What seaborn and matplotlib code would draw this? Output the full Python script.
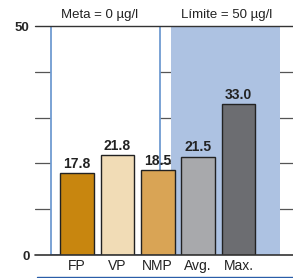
import pandas as pd
import matplotlib
matplotlib.use("Agg")
import matplotlib.pyplot as plt
from matplotlib.lines import Line2D
import seaborn as sns

categories = ["FP", "VP", "NMP", "Avg.", "Max."]
values = [17.8, 21.8, 18.5, 21.5, 33.0]
bar_colors = ["#c8860f", "#f1dcb6", "#d9a455", "#a8a9ac", "#6c6d71"]
meta_label = "Meta = 0 µg/l"
limite_label = "Límite = 50 µg/l"

sns.set_style("white")
plt.rcParams["font.family"] = ["Liberation Sans", "DejaVu Sans"]

df = pd.DataFrame({"cat": categories, "val": values})

fig = plt.figure(figsize=(2.93, 2.78), dpi=100)
ax = fig.add_axes([0.1195, 0.0827, 0.8805, 0.8237])

# gridlines (partly hidden by the panels)
for g in [10, 20, 30, 40]:
    ax.axhline(g, color="#555555", lw=0.9, zorder=0)

# target / limit panels
ax.axvspan(-0.64, 2.05, ymin=0, ymax=1, facecolor="white", edgecolor="#6f9bd1", lw=1.3, zorder=1)
ax.axvspan(2.33, 5.02, ymin=0, ymax=1, facecolor="#adc2e2", edgecolor="none", zorder=1)

sns.barplot(data=df, x="cat", y="val", hue="cat", palette=bar_colors, legend=False,
            saturation=1, width=0.83, edgecolor="#222222", linewidth=1.0, ax=ax, zorder=3)
for p in ax.patches:
    p.set_zorder(3)

for i, v in enumerate(values):
    ax.text(i, v + 0.5, f"{v:.1f}", ha="center", va="bottom", fontsize=10,
            fontweight="bold", color="#222222", zorder=4)

ax.axhline(50, color="#333333", lw=1.0, zorder=5, clip_on=False)
ax.axhline(0, color="#333333", lw=1.2, zorder=5, clip_on=False)

ax.set_xlim(-1.04, 5.35)
ax.set_ylim(0, 50)
ax.set_yticks([0, 50])
ax.set_yticklabels(["0", "50"], fontweight="bold", fontsize=9.5)
ax.tick_params(axis="y", length=0, pad=4)
ax.tick_params(axis="x", length=0, pad=3, labelsize=10, labelcolor="#222222")
ax.set_xlabel("")
ax.set_ylabel("")
for s in ax.spines.values():
    s.set_visible(False)

ax.text(0.55, 51.2, meta_label, ha="center", va="bottom", fontsize=9.5, color="#222222")
ax.text(3.7, 51.2, limite_label, ha="center", va="bottom", fontsize=9.5, color="#222222")

fig.add_artist(Line2D([37 / 293, 1.0], [1.5 / 278, 1.5 / 278], color="#2a5da8", lw=1.0))

fig.savefig("out.png", dpi=100)
